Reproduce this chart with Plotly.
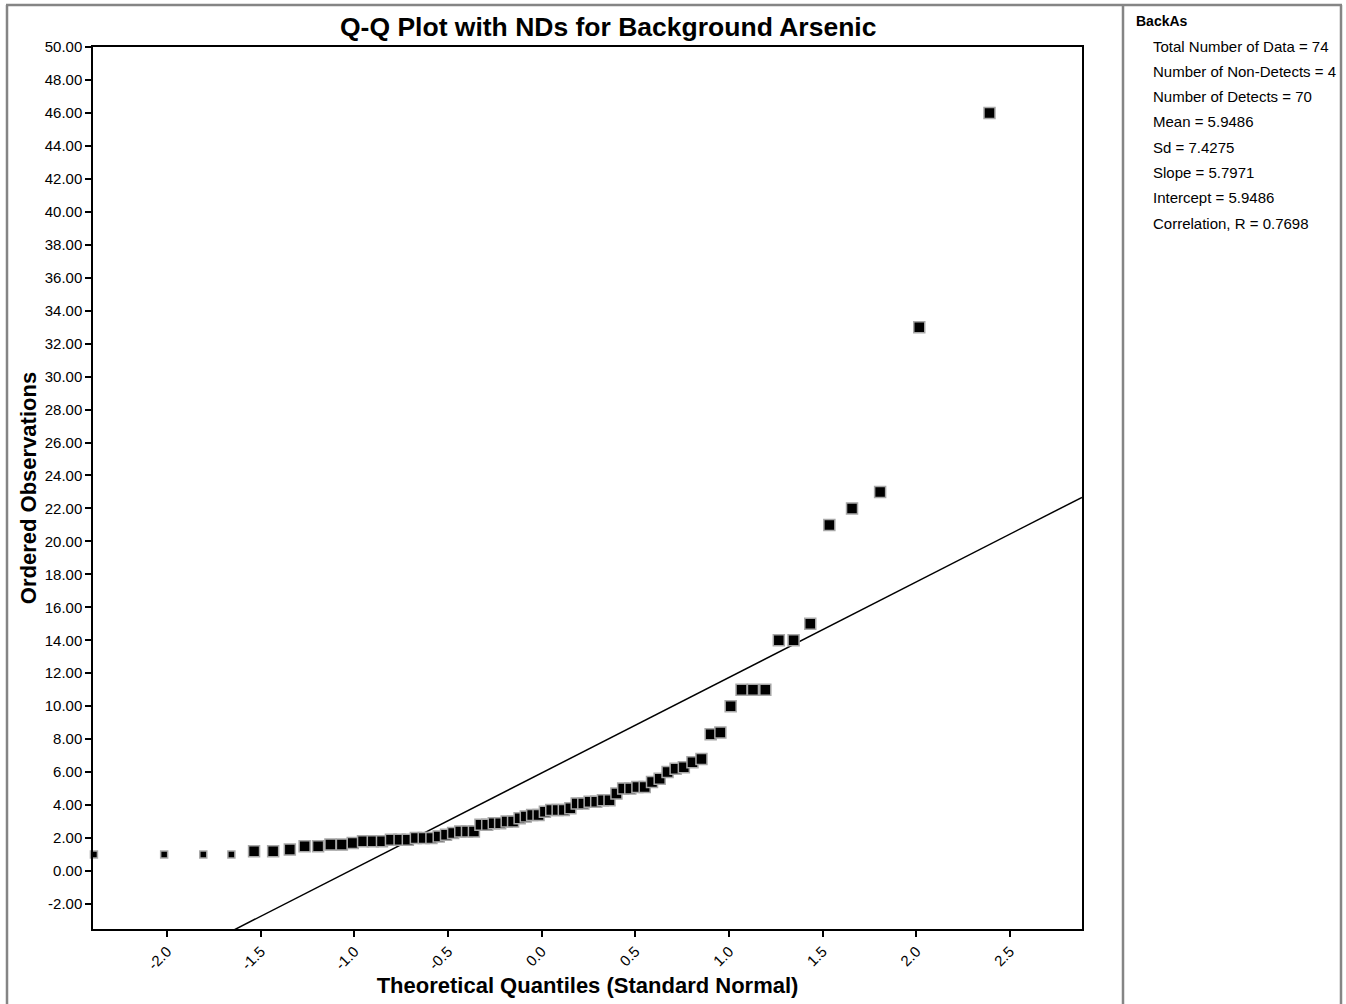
import plotly.graph_objects as go

# ---- data ----
theoretical_quantiles = [
    -2.391, -2.016, -1.807, -1.657, -1.536, -1.434, -1.345, -1.266, -1.194, -1.128,
    -1.067, -1.009, -0.954, -0.902, -0.853, -0.805, -0.759, -0.715, -0.672, -0.630,
    -0.589, -0.550, -0.511, -0.473, -0.435, -0.399, -0.362, -0.327, -0.291, -0.256,
    -0.222, -0.187, -0.153, -0.118, -0.085, -0.051, -0.017,
    0.017, 0.051, 0.085, 0.118, 0.153, 0.187, 0.222, 0.256, 0.291, 0.327,
    0.362, 0.399, 0.435, 0.473, 0.511, 0.550, 0.589, 0.630, 0.672, 0.715,
    0.759, 0.805, 0.853, 0.902, 0.954, 1.009, 1.067, 1.128, 1.194, 1.266,
    1.345, 1.434, 1.536, 1.657, 1.807, 2.016, 2.391,
]
ordered_obs = [
    1.0, 1.0, 1.0, 1.0,
    1.2, 1.2, 1.3, 1.5, 1.5, 1.6, 1.6, 1.7, 1.8, 1.8, 1.8, 1.9, 1.9, 1.9,
    2.0, 2.0, 2.0, 2.1, 2.2, 2.3, 2.4, 2.4, 2.4,
    2.8, 2.8, 2.9, 2.9, 3.0, 3.0, 3.2, 3.3, 3.4, 3.4,
    3.6, 3.7, 3.7, 3.7, 3.8, 4.1, 4.1, 4.2, 4.2, 4.3, 4.3,
    4.7, 5.0, 5.0, 5.1, 5.1, 5.4, 5.6, 6.0, 6.2, 6.3, 6.6, 6.8,
    8.3, 8.4, 10.0, 11.0, 11.0, 11.0, 14.0, 14.0, 15.0, 21.0, 22.0, 23.0, 33.0, 46.0,
]
n_nondetects = 4
slope = 5.7971
intercept = 5.9486
x_range = [-2.396, 2.885]
y_range = [-3.52, 50.0]
y_ticks = [v * 2 for v in range(-1, 26)]
x_ticks = [-2.0, -1.5, -1.0, -0.5, 0.0, 0.5, 1.0, 1.5, 2.0, 2.5]

stats_title = "BackAs"
stats_lines = [
    "Total Number of Data = 74",
    "Number of Non-Detects = 4",
    "Number of Detects = 70",
    "Mean = 5.9486",
    "Sd = 7.4275",
    "Slope = 5.7971",
    "Intercept = 5.9486",
    "Correlation, R = 0.7698",
]

FONT = "Arial, 'Liberation Sans', sans-serif"
W, H = 1346, 1004
L, R, T, B = 93, 1082, 47, 929  # plot area in pixels


def px(x):
    return (x - L) / (R - L)


def py(y):
    return (B - y) / (B - T)


fig = go.Figure()

# fitted line
line_x = x_range
line_y = [intercept + slope * v for v in line_x]
fig.add_trace(go.Scatter(x=line_x, y=line_y, mode="lines",
                         line=dict(color="black", width=1.5),
                         hoverinfo="skip", showlegend=False))

marker_style = dict(symbol="square", color="black",
                    line=dict(color="#a8a8a8", width=1.5))

# non-detects (smaller markers)
fig.add_trace(go.Scatter(
    x=theoretical_quantiles[:n_nondetects], y=ordered_obs[:n_nondetects],
    mode="markers", marker=dict(size=7, **marker_style),
    cliponaxis=False, showlegend=False))
# detects
fig.add_trace(go.Scatter(
    x=theoretical_quantiles[n_nondetects:], y=ordered_obs[n_nondetects:],
    mode="markers", marker=dict(size=11, **marker_style),
    cliponaxis=False, showlegend=False))

fig.update_layout(
    width=W, height=H,
    margin=dict(l=L, r=W - R, t=T, b=H - B, pad=0),
    paper_bgcolor="white", plot_bgcolor="white",
    font=dict(family=FONT, color="black", size=15),
    showlegend=False,
)
fig.update_xaxes(
    range=x_range, tickvals=x_ticks, ticktext=[f"{v:.1f}" for v in x_ticks],
    tickangle=-45, ticks="outside", ticklen=6, tickwidth=1.5, tickcolor="black",
    showline=True, linecolor="black", linewidth=1.5, mirror=True,
    showgrid=False, zeroline=False, tickfont=dict(size=15), automargin=False,
    title=dict(text="<b>Theoretical Quantiles (Standard Normal)</b>",
               font=dict(size=22), standoff=3),
)
fig.update_yaxes(
    range=y_range, tickvals=y_ticks, ticktext=[f"{v:.2f}" for v in y_ticks],
    ticks="outside", ticklen=6, tickwidth=1.5, tickcolor="black",
    showline=True, linecolor="black", linewidth=1.5, mirror=True,
    showgrid=False, zeroline=False, tickfont=dict(size=15), automargin=False,
    title=dict(text="<b>Ordered Observations</b>", font=dict(size=22), standoff=2),
)

# outer frame lines (gray)
gray = "#858585"
frame = [
    (7, 5, 7, 1004),
    (6, 5, 1342, 5),
    (1123, 5, 1123, 1004),
    (1341, 5, 1341, 1004),
]
for x0, y0, x1, y1 in frame:
    fig.add_shape(type="line", xref="paper", yref="paper",
                  x0=px(x0), y0=py(y0), x1=px(x1), y1=py(y1),
                  line=dict(color=gray, width=2.5))

# title
fig.add_annotation(text="<b>Q-Q Plot with NDs for Background Arsenic</b>",
                   xref="paper", yref="paper", x=px(608), y=py(27),
                   xanchor="center", yanchor="middle", showarrow=False,
                   font=dict(size=26.5, family=FONT))

# stats panel
fig.add_annotation(text=f"<b>{stats_title}</b>", xref="paper", yref="paper",
                   x=px(1134), y=py(21), xanchor="left", yanchor="middle",
                   showarrow=False, font=dict(size=14, family=FONT))
for k, s in enumerate(stats_lines):
    fig.add_annotation(text=s, xref="paper", yref="paper",
                       x=px(1151), y=py(46 + 25.3 * k), xanchor="left",
                       yanchor="middle", showarrow=False,
                       font=dict(size=15, family=FONT))

fig.write_html(
    "out.html",
    config={"displayModeBar": False},
    post_script="document.body.style.margin='0px';document.body.style.overflow='hidden';",
)
